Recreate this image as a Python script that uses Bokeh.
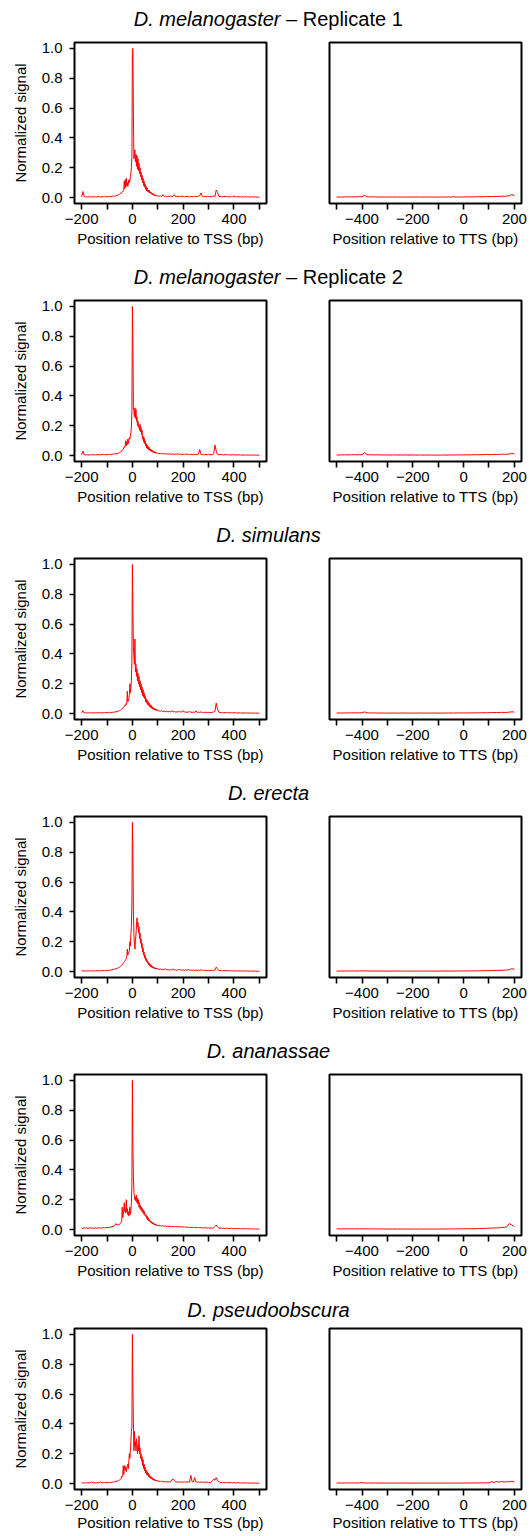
from bokeh.plotting import figure
from bokeh.layouts import column, row
from bokeh.models import Range1d, FixedTicker, PrintfTickFormatter
from bokeh.embed import file_html
from bokeh.resources import INLINE
from bokeh.core.properties import value

# ---------------- data ----------------
SPECIES = ["D. melanogaster", "D. melanogaster", "D. simulans",
           "D. erecta", "D. ananassae", "D. pseudoobscura"]
SUFFIX = ["\u00a0\u2013 Replicate 1", "\u00a0\u2013 Replicate 2", "", "", "", ""]

TSS_X = list(range(-200, -49, 5)) + list(range(-48, 101, 2)) + list(range(105, 501, 5))
TTS_X = list(range(-500, 201, 10))

TSS_TICKS = [-200, 0, 200, 400]
TSS_MINOR = [-100, 100, 300, 500]
TSS_LABELS = ["\u2212200", "0", "200", "400"]
TTS_TICKS = [-400, -200, 0, 200]
TTS_MINOR = [-500, -300, -100, 100]
TTS_LABELS = ["\u2212400", "\u2212200", "0", "200"]
Y_TICKS = [0.0, 0.2, 0.4, 0.6, 0.8, 1.0]

TSS_MEL1 = [
    0.005, 0.04, 0.008, 0.004, 0.005, 0.003, 0.006, 0.004, 0.005, 0.003,
    0.006, 0.005, 0.004, 0.007, 0.005, 0.004, 0.006, 0.005, 0.008, 0.004,
    0.006, 0.005, 0.007, 0.006, 0.008, 0.01, 0.009, 0.012, 0.015, 0.018,
    0.022,
    0.025, 0.03, 0.028, 0.035, 0.04, 0.038, 0.045, 0.05, 0.11, 0.06,
    0.12, 0.07, 0.13, 0.08, 0.10, 0.075, 0.09, 0.12, 0.10, 0.11,
    0.14, 0.16, 0.20, 0.27, 0.99, 1.0, 0.55, 0.26, 0.30, 0.32,
    0.24, 0.29, 0.21, 0.28, 0.19, 0.26, 0.18, 0.23, 0.16, 0.2,
    0.14, 0.17, 0.12, 0.15, 0.1, 0.13, 0.08, 0.11, 0.07, 0.09,
    0.055, 0.075, 0.045, 0.065, 0.04, 0.05, 0.035, 0.05, 0.03, 0.04,
    0.028, 0.035, 0.022, 0.03, 0.018, 0.025, 0.015, 0.02, 0.012, 0.018,
    0.01, 0.015, 0.009, 0.013, 0.01,
    0.008, 0.012, 0.006, 0.02, 0.008, 0.01, 0.005, 0.009, 0.007, 0.01,
    0.006, 0.008, 0.02, 0.006, 0.009, 0.005, 0.008, 0.006, 0.01, 0.007,
    0.005, 0.008, 0.006, 0.009, 0.005, 0.007, 0.006, 0.008, 0.005, 0.007,
    0.006, 0.009, 0.012, 0.03, 0.008, 0.006, 0.007, 0.005, 0.008, 0.006,
    0.007, 0.005, 0.008, 0.01, 0.006, 0.05, 0.035, 0.01, 0.006, 0.008,
    0.005, 0.007, 0.006, 0.008, 0.005, 0.006, 0.004, 0.007, 0.005, 0.012,
    0.004, 0.006, 0.005, 0.004, 0.006, 0.003, 0.005, 0.004, 0.006, 0.003,
    0.005, 0.004, 0.003, 0.005, 0.004, 0.003, 0.004, 0.002, 0.003, 0.002,
]
TSS_MEL2 = [
    0.006, 0.03, 0.005, 0.004, 0.006, 0.003, 0.005, 0.004, 0.006, 0.005,
    0.004, 0.006, 0.005, 0.007, 0.004, 0.006, 0.005, 0.008, 0.006, 0.005,
    0.007, 0.006, 0.008, 0.007, 0.009, 0.01, 0.012, 0.011, 0.014, 0.016,
    0.02,
    0.022, 0.025, 0.03, 0.028, 0.035, 0.04, 0.042, 0.05, 0.06, 0.055,
    0.07, 0.1, 0.065, 0.09, 0.075, 0.11, 0.08, 0.1, 0.12, 0.11,
    0.13, 0.15, 0.19, 0.3, 1.0, 0.75, 0.32, 0.3, 0.26, 0.32,
    0.25, 0.31, 0.23, 0.26, 0.2, 0.23, 0.19, 0.2, 0.17, 0.21,
    0.16, 0.19, 0.14, 0.17, 0.11, 0.13, 0.09, 0.12, 0.08, 0.1,
    0.065, 0.08, 0.05, 0.07, 0.045, 0.06, 0.04, 0.055, 0.035, 0.045,
    0.03, 0.04, 0.026, 0.035, 0.022, 0.03, 0.02, 0.027, 0.017, 0.024,
    0.016, 0.021, 0.014, 0.019, 0.015,
    0.014, 0.012, 0.015, 0.011, 0.013, 0.01, 0.012, 0.009, 0.011, 0.01,
    0.009, 0.011, 0.008, 0.01, 0.009, 0.012, 0.008, 0.01, 0.007, 0.009,
    0.008, 0.01, 0.007, 0.009, 0.006, 0.008, 0.007, 0.009, 0.006, 0.008,
    0.007, 0.01, 0.04, 0.008, 0.006, 0.008, 0.005, 0.007, 0.006, 0.008,
    0.005, 0.007, 0.006, 0.012, 0.07, 0.03, 0.008, 0.006, 0.007, 0.005,
    0.006, 0.004, 0.007, 0.005, 0.006, 0.004, 0.005, 0.003, 0.006, 0.004,
    0.005, 0.003, 0.004, 0.005, 0.003, 0.004, 0.002, 0.004, 0.003, 0.004,
    0.003, 0.004, 0.002, 0.003, 0.004, 0.002, 0.003, 0.002, 0.003, 0.002,
]
TSS_SIM = [
    0.005, 0.02, 0.004, 0.006, 0.003, 0.005, 0.004, 0.006, 0.003, 0.005,
    0.004, 0.006, 0.005, 0.004, 0.007, 0.005, 0.004, 0.006, 0.005, 0.007,
    0.006, 0.005, 0.008, 0.006, 0.009, 0.008, 0.01, 0.012, 0.014, 0.016,
    0.02,
    0.022, 0.025, 0.028, 0.03, 0.035, 0.033, 0.04, 0.045, 0.05, 0.048,
    0.06, 0.055, 0.07, 0.065, 0.15, 0.08, 0.09, 0.1, 0.12, 0.2,
    0.14, 0.17, 0.22, 0.35, 1.0, 0.7, 0.45, 0.38, 0.33, 0.5,
    0.28, 0.33, 0.25, 0.3, 0.22, 0.27, 0.2, 0.25, 0.18, 0.22,
    0.16, 0.2, 0.14, 0.18, 0.12, 0.16, 0.11, 0.14, 0.1, 0.12,
    0.08, 0.1, 0.07, 0.09, 0.06, 0.08, 0.055, 0.07, 0.045, 0.06,
    0.04, 0.055, 0.035, 0.045, 0.03, 0.04, 0.027, 0.035, 0.024, 0.032,
    0.022, 0.03, 0.02, 0.026, 0.02,
    0.018, 0.015, 0.02, 0.013, 0.016, 0.012, 0.015, 0.011, 0.014, 0.01,
    0.02, 0.011, 0.013, 0.01, 0.012, 0.009, 0.018, 0.01, 0.012, 0.02,
    0.009, 0.011, 0.008, 0.01, 0.015, 0.009, 0.008, 0.01, 0.007, 0.018,
    0.008, 0.009, 0.007, 0.012, 0.006, 0.008, 0.007, 0.009, 0.006, 0.008,
    0.007, 0.006, 0.008, 0.01, 0.015, 0.07, 0.03, 0.01, 0.007, 0.006,
    0.005, 0.007, 0.006, 0.005, 0.007, 0.004, 0.006, 0.005, 0.004, 0.006,
    0.004, 0.005, 0.003, 0.005, 0.004, 0.003, 0.005, 0.004, 0.003, 0.004,
    0.003, 0.004, 0.003, 0.002, 0.004, 0.003, 0.002, 0.003, 0.002, 0.002,
]
TSS_ERE = [
    0.004, 0.006, 0.003, 0.005, 0.004, 0.003, 0.005, 0.004, 0.006, 0.003,
    0.005, 0.004, 0.006, 0.005, 0.004, 0.006, 0.005, 0.007, 0.005, 0.006,
    0.008, 0.007, 0.009, 0.01, 0.012, 0.014, 0.016, 0.018, 0.022, 0.025,
    0.03,
    0.032, 0.035, 0.04, 0.042, 0.048, 0.05, 0.055, 0.06, 0.065, 0.07,
    0.075, 0.08, 0.09, 0.1, 0.15, 0.11, 0.12, 0.13, 0.14, 0.2,
    0.17, 0.25, 0.3, 0.45, 1.0, 0.8, 0.4, 0.25, 0.18, 0.15,
    0.2, 0.25, 0.3, 0.36, 0.3, 0.33, 0.26, 0.3, 0.22, 0.26,
    0.19, 0.22, 0.16, 0.19, 0.13, 0.16, 0.11, 0.13, 0.09, 0.11,
    0.075, 0.09, 0.065, 0.075, 0.055, 0.065, 0.045, 0.055, 0.04, 0.05,
    0.032, 0.042, 0.028, 0.036, 0.024, 0.032, 0.021, 0.028, 0.019, 0.025,
    0.017, 0.023, 0.016, 0.021, 0.016,
    0.015, 0.017, 0.013, 0.015, 0.012, 0.02, 0.011, 0.013, 0.01, 0.012,
    0.011, 0.018, 0.01, 0.012, 0.009, 0.011, 0.015, 0.01, 0.009, 0.011,
    0.009, 0.012, 0.008, 0.015, 0.009, 0.01, 0.008, 0.011, 0.007, 0.009,
    0.008, 0.01, 0.007, 0.012, 0.008, 0.009, 0.007, 0.008, 0.006, 0.008,
    0.007, 0.009, 0.006, 0.008, 0.01, 0.03, 0.02, 0.008, 0.006, 0.007,
    0.005, 0.007, 0.006, 0.005, 0.006, 0.004, 0.006, 0.005, 0.004, 0.005,
    0.004, 0.005, 0.003, 0.004, 0.005, 0.003, 0.004, 0.003, 0.004, 0.003,
    0.003, 0.004, 0.002, 0.003, 0.003, 0.002, 0.003, 0.002, 0.002, 0.002,
]
TSS_ANA = [
    0.01, 0.008, 0.012, 0.009, 0.011, 0.008, 0.01, 0.012, 0.009, 0.011,
    0.008, 0.01, 0.009, 0.012, 0.01, 0.011, 0.009, 0.013, 0.011, 0.012,
    0.014, 0.013, 0.015, 0.017, 0.02, 0.022, 0.025, 0.04, 0.03, 0.032,
    0.035,
    0.04, 0.045, 0.05, 0.06, 0.15, 0.08, 0.1, 0.13, 0.18, 0.12,
    0.14, 0.11, 0.2, 0.12, 0.14, 0.1, 0.12, 0.09, 0.11, 0.15,
    0.1, 0.13, 0.18, 0.3, 1.0, 0.55, 0.35, 0.25, 0.22, 0.2,
    0.22, 0.19, 0.23, 0.18, 0.21, 0.17, 0.2, 0.15, 0.18, 0.14,
    0.16, 0.13, 0.15, 0.12, 0.14, 0.11, 0.13, 0.1, 0.12, 0.09,
    0.09, 0.1, 0.075, 0.09, 0.065, 0.08, 0.06, 0.07, 0.055, 0.06,
    0.048, 0.055, 0.042, 0.05, 0.038, 0.045, 0.034, 0.04, 0.03, 0.036,
    0.028, 0.034, 0.026, 0.031, 0.027,
    0.025, 0.027, 0.023, 0.025, 0.022, 0.024, 0.021, 0.023, 0.02, 0.022,
    0.019, 0.021, 0.018, 0.02, 0.018, 0.019, 0.017, 0.019, 0.016, 0.018,
    0.016, 0.017, 0.015, 0.016, 0.014, 0.016, 0.013, 0.015, 0.013, 0.014,
    0.012, 0.014, 0.012, 0.013, 0.011, 0.012, 0.011, 0.012, 0.01, 0.011,
    0.01, 0.011, 0.009, 0.012, 0.02, 0.03, 0.018, 0.01, 0.009, 0.01,
    0.008, 0.009, 0.008, 0.009, 0.007, 0.008, 0.007, 0.008, 0.006, 0.007,
    0.006, 0.007, 0.006, 0.007, 0.005, 0.006, 0.005, 0.006, 0.005, 0.006,
    0.004, 0.005, 0.004, 0.005, 0.004, 0.004, 0.003, 0.004, 0.003, 0.003,
]
TSS_PSE = [
    0.004, 0.005, 0.003, 0.005, 0.004, 0.006, 0.004, 0.005, 0.012, 0.004,
    0.006, 0.005, 0.004, 0.006, 0.005, 0.012, 0.005, 0.006, 0.008, 0.005,
    0.007, 0.006, 0.008, 0.007, 0.009, 0.01, 0.012, 0.014, 0.016, 0.02,
    0.024,
    0.028, 0.03, 0.035, 0.05, 0.045, 0.055, 0.12, 0.06, 0.1, 0.12,
    0.09, 0.11, 0.08, 0.1, 0.12, 0.13, 0.1, 0.15, 0.2, 0.17,
    0.22, 0.28, 0.35, 0.38, 1.0, 0.64, 0.4, 0.22, 0.35, 0.25,
    0.28, 0.22, 0.3, 0.25, 0.2, 0.26, 0.22, 0.32, 0.2, 0.24,
    0.17, 0.2, 0.15, 0.18, 0.12, 0.16, 0.1, 0.13, 0.085, 0.11,
    0.07, 0.09, 0.06, 0.08, 0.055, 0.07, 0.045, 0.06, 0.04, 0.05,
    0.035, 0.045, 0.03, 0.04, 0.026, 0.034, 0.022, 0.03, 0.02, 0.026,
    0.018, 0.024, 0.016, 0.022, 0.016,
    0.015, 0.013, 0.016, 0.012, 0.014, 0.011, 0.013, 0.01, 0.012, 0.011,
    0.025, 0.03, 0.02, 0.012, 0.01, 0.012, 0.009, 0.011, 0.01, 0.009,
    0.011, 0.01, 0.009, 0.011, 0.01, 0.055, 0.012, 0.01, 0.04, 0.011,
    0.009, 0.011, 0.008, 0.01, 0.009, 0.008, 0.01, 0.007, 0.009, 0.008,
    0.007, 0.009, 0.02, 0.03, 0.022, 0.04, 0.02, 0.012, 0.008, 0.007,
    0.006, 0.008, 0.005, 0.007, 0.006, 0.005, 0.007, 0.005, 0.004, 0.006,
    0.005, 0.004, 0.006, 0.004, 0.005, 0.003, 0.004, 0.005, 0.003, 0.004,
    0.003, 0.004, 0.003, 0.002, 0.003, 0.004, 0.002, 0.003, 0.002, 0.002,
]

TTS_MEL1 = [
    0.003, 0.004, 0.003, 0.004, 0.005, 0.004, 0.005, 0.004, 0.005, 0.006,
    0.005, 0.015, 0.005, 0.004, 0.005, 0.004, 0.004, 0.003, 0.004, 0.003,
    0.003, 0.004, 0.003, 0.003, 0.004, 0.003, 0.003, 0.003, 0.004, 0.003,
    0.003, 0.003, 0.004, 0.003, 0.003, 0.003, 0.004, 0.003, 0.003, 0.003,
    0.003, 0.004, 0.003, 0.003, 0.004, 0.003, 0.006, 0.003, 0.004, 0.003,
    0.004, 0.004, 0.005, 0.004, 0.005, 0.005, 0.006, 0.005, 0.006, 0.006,
    0.007, 0.006, 0.008, 0.007, 0.008, 0.009, 0.008, 0.01, 0.012, 0.02,
    0.012,
]
TTS_MEL2 = [
    0.003, 0.004, 0.004, 0.005, 0.004, 0.005, 0.005, 0.006, 0.005, 0.005,
    0.006, 0.02, 0.006, 0.005, 0.005, 0.004, 0.005, 0.004, 0.004, 0.004,
    0.004, 0.003, 0.004, 0.004, 0.003, 0.004, 0.003, 0.004, 0.003, 0.003,
    0.004, 0.003, 0.003, 0.004, 0.003, 0.003, 0.003, 0.004, 0.003, 0.003,
    0.003, 0.003, 0.004, 0.003, 0.003, 0.004, 0.003, 0.004, 0.004, 0.004,
    0.004, 0.005, 0.004, 0.005, 0.005, 0.006, 0.005, 0.006, 0.006, 0.007,
    0.006, 0.007, 0.008, 0.007, 0.008, 0.009, 0.008, 0.009, 0.01, 0.015,
    0.01,
]
TTS_SIM = [
    0.003, 0.004, 0.003, 0.004, 0.004, 0.005, 0.004, 0.005, 0.005, 0.004,
    0.005, 0.011, 0.005, 0.004, 0.004, 0.004, 0.003, 0.004, 0.003, 0.003,
    0.003, 0.003, 0.004, 0.003, 0.003, 0.003, 0.004, 0.003, 0.003, 0.003,
    0.003, 0.003, 0.003, 0.004, 0.003, 0.003, 0.003, 0.003, 0.004, 0.003,
    0.003, 0.003, 0.003, 0.004, 0.003, 0.004, 0.003, 0.004, 0.004, 0.004,
    0.004, 0.004, 0.004, 0.005, 0.004, 0.005, 0.005, 0.005, 0.006, 0.005,
    0.006, 0.006, 0.007, 0.006, 0.007, 0.008, 0.007, 0.008, 0.009, 0.012,
    0.009,
]
TTS_ERE = [
    0.003, 0.003, 0.004, 0.003, 0.004, 0.003, 0.004, 0.004, 0.003, 0.004,
    0.004, 0.005, 0.004, 0.003, 0.004, 0.003, 0.003, 0.004, 0.003, 0.003,
    0.003, 0.003, 0.003, 0.003, 0.004, 0.003, 0.003, 0.003, 0.003, 0.003,
    0.003, 0.003, 0.003, 0.003, 0.003, 0.004, 0.003, 0.003, 0.003, 0.003,
    0.003, 0.003, 0.004, 0.003, 0.003, 0.003, 0.004, 0.003, 0.004, 0.004,
    0.004, 0.004, 0.004, 0.005, 0.004, 0.005, 0.005, 0.005, 0.006, 0.006,
    0.006, 0.007, 0.007, 0.008, 0.008, 0.009, 0.009, 0.01, 0.012, 0.02,
    0.014,
]
TTS_ANA = [
    0.004, 0.005, 0.004, 0.005, 0.005, 0.004, 0.005, 0.005, 0.004, 0.005,
    0.005, 0.004, 0.005, 0.004, 0.004, 0.005, 0.004, 0.004, 0.004, 0.003,
    0.004, 0.004, 0.003, 0.004, 0.004, 0.003, 0.004, 0.003, 0.004, 0.003,
    0.003, 0.004, 0.003, 0.004, 0.003, 0.003, 0.004, 0.003, 0.003, 0.004,
    0.003, 0.004, 0.004, 0.003, 0.004, 0.004, 0.004, 0.005, 0.004, 0.005,
    0.005, 0.005, 0.006, 0.005, 0.006, 0.006, 0.007, 0.007, 0.008, 0.008,
    0.009, 0.01, 0.01, 0.011, 0.012, 0.013, 0.015, 0.018, 0.04, 0.03,
    0.02,
]
TTS_PSE = [
    0.003, 0.004, 0.003, 0.004, 0.004, 0.003, 0.004, 0.004, 0.003, 0.004,
    0.006, 0.004, 0.003, 0.004, 0.003, 0.004, 0.003, 0.003, 0.004, 0.003,
    0.003, 0.003, 0.004, 0.003, 0.003, 0.003, 0.003, 0.004, 0.003, 0.003,
    0.003, 0.003, 0.003, 0.003, 0.003, 0.003, 0.003, 0.003, 0.003, 0.003,
    0.003, 0.003, 0.003, 0.003, 0.003, 0.003, 0.003, 0.004, 0.003, 0.003,
    0.003, 0.004, 0.003, 0.004, 0.004, 0.004, 0.004, 0.005, 0.004, 0.005,
    0.005, 0.012, 0.008, 0.013, 0.009, 0.014, 0.01, 0.013, 0.012, 0.015,
    0.01,
]

TSS_SERIES = [TSS_MEL1, TSS_MEL2, TSS_SIM, TSS_ERE, TSS_ANA, TSS_PSE]
TTS_SERIES = [TTS_MEL1, TTS_MEL2, TTS_SIM, TTS_ERE, TTS_ANA, TTS_PSE]
for s in TSS_SERIES:
    assert len(s) == len(TSS_X), len(s)
for s in TTS_SERIES:
    assert len(s) == len(TTS_X), len(s)

# ---------------- style / layout ----------------
FONT = "Liberation Sans"
TICK_PX = "15px"
LAB_PX = "15px"
TITLE_PX = "20px"

FW, FH = 192, 161
L_LEFT, L_RIGHT = 74, 8
R_LEFT, R_RIGHT = 55, 7
TITLE_H = 37
TITLE_H_LAST = 33
TITLE_FROM_TOP = 18       # title anchor, px below the top of the title strip
TITLE_FROM_TOP_LAST = 19
TOP_B = 5
BOT_B = 55
BOT_B_LAST = 47
TOTAL_W = L_LEFT + FW + L_RIGHT + R_LEFT + FW + R_RIGHT
TITLE_CENTER = 268
TITLE_SPLIT = 280


def style_panel(p):
    p.xgrid.visible = False
    p.ygrid.visible = False
    p.outline_line_color = "black"
    p.outline_line_width = 2
    p.background_fill_color = "white"
    p.border_fill_color = "white"
    for ax in p.axis:
        ax.axis_line_color = None
        ax.major_tick_in = 0
        ax.minor_tick_in = 0
        ax.major_tick_line_color = "black"
        ax.minor_tick_line_color = "black"
        ax.major_tick_line_width = 1.6
        ax.minor_tick_line_width = 1.6
        ax.major_label_text_font = FONT
        ax.major_label_text_font_size = TICK_PX
        ax.major_label_text_color = "black"
        ax.axis_label_text_font = FONT
        ax.axis_label_text_font_size = LAB_PX
        ax.axis_label_text_font_style = "normal"
        ax.axis_label_text_color = "black"


def style_x(ax, ticks, minor, labels, last):
    ax.ticker = FixedTicker(ticks=ticks, minor_ticks=minor)
    ax.major_label_overrides = {t: l for t, l in zip(ticks, labels)}
    ax.major_tick_out = 6
    ax.minor_tick_out = 6
    ax.major_label_standoff = 4
    ax.axis_label_standoff = 1 if last else 3


def make_row(i, last):
    bot = BOT_B_LAST if last else BOT_B
    th = TITLE_H_LAST if last else TITLE_H
    yb = th - (TITLE_FROM_TOP_LAST if last else TITLE_FROM_TOP)

    # title strip
    t = figure(width=TOTAL_W, height=th, x_range=Range1d(0, TOTAL_W),
               y_range=Range1d(0, th), min_border=0, title=None,
               toolbar_location=None, output_backend="svg",
               x_axis_location=None, y_axis_location=None)
    t.outline_line_color = None
    t.xgrid.visible = False
    t.ygrid.visible = False
    t.border_fill_color = "white"
    if SUFFIX[i]:
        t.text(x=[TITLE_SPLIT], y=[yb], text=[SPECIES[i]],
               text_font=value(FONT), text_font_size=TITLE_PX,
               text_font_style="italic", text_align="right",
               text_baseline="alphabetic", text_color="black")
        t.text(x=[TITLE_SPLIT], y=[yb], text=[SUFFIX[i]],
               text_font=value(FONT), text_font_size=TITLE_PX,
               text_font_style="normal", text_align="left",
               text_baseline="alphabetic", text_color="black")
    else:
        t.text(x=[TITLE_CENTER], y=[yb], text=[SPECIES[i]],
               text_font=value(FONT), text_font_size=TITLE_PX,
               text_font_style="italic", text_align="center",
               text_baseline="alphabetic", text_color="black")

    # TSS panel
    a = figure(frame_width=FW, frame_height=FH, title=None,
               x_range=Range1d(-228, 528), y_range=Range1d(-0.04, 1.04),
               min_border_left=L_LEFT, min_border_right=L_RIGHT,
               min_border_top=TOP_B, min_border_bottom=bot,
               toolbar_location=None, output_backend="svg",
               x_axis_label="Position relative to TSS (bp)",
               y_axis_label="Normalized signal")
    a.line(TSS_X, TSS_SERIES[i], line_color="#ff0000", line_width=1)
    style_panel(a)
    style_x(a.xaxis[0], TSS_TICKS, TSS_MINOR, TSS_LABELS, last)
    ya = a.yaxis[0]
    ya.ticker = FixedTicker(ticks=Y_TICKS, minor_ticks=[])
    ya.formatter = PrintfTickFormatter(format="%.1f")
    ya.major_tick_out = 5
    ya.major_label_standoff = 7
    ya.axis_label_standoff = 10

    # TTS panel
    b = figure(frame_width=FW, frame_height=FH, title=None,
               x_range=Range1d(-528, 228), y_range=Range1d(-0.04, 1.04),
               min_border_left=R_LEFT, min_border_right=R_RIGHT,
               min_border_top=TOP_B, min_border_bottom=bot,
               toolbar_location=None, output_backend="svg",
               y_axis_location=None,
               x_axis_label="Position relative to TTS (bp)")
    b.line(TTS_X, TTS_SERIES[i], line_color="#ff0000", line_width=1)
    style_panel(b)
    style_x(b.xaxis[0], TTS_TICKS, TTS_MINOR, TTS_LABELS, last)

    return column(t, row(a, b, spacing=0), spacing=0)


blocks = [make_row(i, i == len(SPECIES) - 1) for i in range(len(SPECIES))]
page = column(*blocks, spacing=0)

open("out.html", "w").write(file_html(page, INLINE))
